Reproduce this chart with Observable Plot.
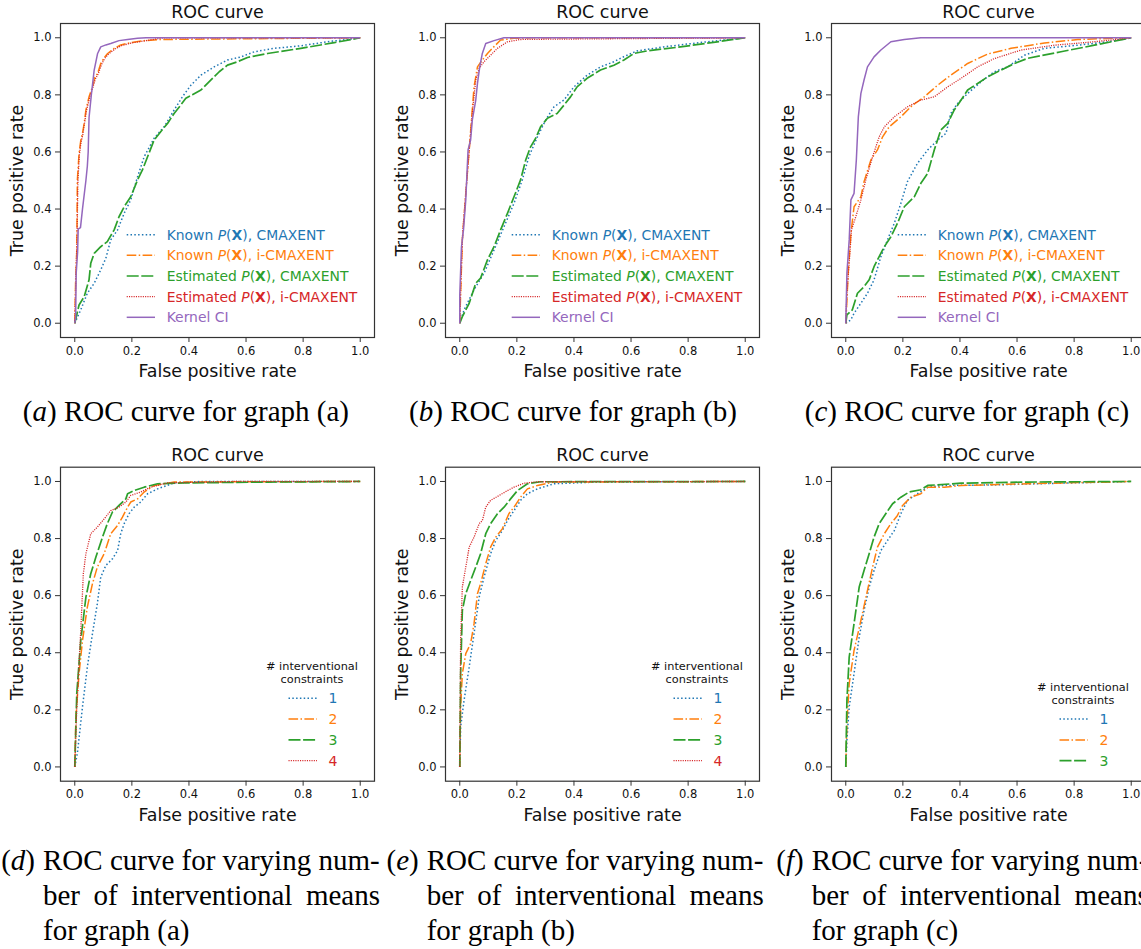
<!DOCTYPE html>
<html><head><meta charset="utf-8">
<script src="https://cdn.jsdelivr.net/npm/d3@7"></script>
<script src="https://cdn.jsdelivr.net/npm/@observablehq/plot@0.6"></script>
<style>
html,body{margin:0;padding:0;background:#fff;}
body{width:1141px;height:949px;overflow:hidden;position:relative;font-family:"DejaVu Sans";}
.panel{position:absolute;width:384px;height:385px;}
.panel svg{max-width:none !important;}
.cap{position:absolute;font-family:"Liberation Serif";font-size:29px;line-height:35px;white-space:nowrap;color:#000;}
.just{text-align:justify;text-align-last:justify;white-space:normal;}
</style></head><body>
<script>
// ---------- data ----------
const axisTicks = [0, 0.2, 0.4, 0.6, 0.8, 1.0];
const topLegendLabels = ["Known P(X), CMAXENT", "Known P(X), i-CMAXENT", "Estimated P(X), CMAXENT", "Estimated P(X), i-CMAXENT", "Kernel CI"];
const constraintLabels = ["1", "2", "3", "4"];
const topCaptions = ["a", "b", "c"];
const bottomCaptions = [["d", "a"], ["e", "b"], ["f", "c"]];

// panel (a) [fpr, tpr]
const a_knownCMAXENT = [[0,0],[0.021,0.047],[0.044,0.105],[0.068,0.14],[0.091,0.187],[0.109,0.228],[0.126,0.292],[0.15,0.327],[0.173,0.385],[0.196,0.432],[0.22,0.513],[0.243,0.583],[0.278,0.648],[0.313,0.688],[0.348,0.747],[0.377,0.793],[0.407,0.834],[0.442,0.869],[0.488,0.898],[0.535,0.922],[0.582,0.933],[0.629,0.951],[0.699,0.963],[0.792,0.972],[0.886,0.986],[1,1]];
const a_knownICMAXENT = [[0,0],[0.003,0.15],[0.007,0.25],[0.009,0.5],[0.015,0.595],[0.021,0.64],[0.027,0.665],[0.033,0.7],[0.039,0.747],[0.05,0.793],[0.062,0.828],[0.07,0.86],[0.08,0.875],[0.091,0.91],[0.103,0.93],[0.115,0.945],[0.138,0.963],[0.161,0.975],[0.196,0.983],[0.243,0.99],[0.302,0.994],[1,1]];
const a_estCMAXENT = [[0,0],[0.015,0.064],[0.033,0.093],[0.05,0.152],[0.056,0.21],[0.068,0.245],[0.091,0.268],[0.114,0.286],[0.138,0.327],[0.155,0.373],[0.173,0.408],[0.196,0.443],[0.22,0.502],[0.237,0.537],[0.255,0.583],[0.278,0.642],[0.301,0.671],[0.325,0.7],[0.348,0.735],[0.371,0.764],[0.389,0.788],[0.412,0.8],[0.442,0.817],[0.465,0.84],[0.488,0.863],[0.506,0.881],[0.535,0.904],[0.57,0.916],[0.605,0.931],[0.675,0.945],[0.792,0.963],[0.909,0.983],[1,1]];
const a_estICMAXENT = [[0,0],[0.004,0.17],[0.008,0.3],[0.011,0.5],[0.016,0.59],[0.022,0.635],[0.028,0.66],[0.034,0.7],[0.041,0.745],[0.052,0.79],[0.063,0.825],[0.072,0.855],[0.082,0.873],[0.093,0.905],[0.105,0.928],[0.118,0.943],[0.14,0.96],[0.165,0.973],[0.2,0.982],[0.25,0.99],[0.31,1],[1,1]];
const a_kernelCI = [[0,0],[0.003,0.02],[0.005,0.175],[0.01,0.25],[0.012,0.33],[0.02,0.335],[0.027,0.4],[0.039,0.5],[0.044,0.55],[0.047,0.6],[0.05,0.72],[0.058,0.8],[0.068,0.887],[0.08,0.945],[0.091,0.968],[0.109,0.975],[0.126,0.98],[0.155,0.99],[0.185,0.994],[0.22,0.998],[0.25,1],[1,1]];

// panel (b)
const b_knownCMAXENT = [[0,0],[0.015,0.047],[0.05,0.117],[0.085,0.175],[0.12,0.257],[0.155,0.338],[0.19,0.42],[0.219,0.502],[0.242,0.583],[0.272,0.653],[0.301,0.712],[0.33,0.758],[0.365,0.782],[0.4,0.828],[0.446,0.869],[0.493,0.898],[0.54,0.916],[0.575,0.934],[0.621,0.954],[0.714,0.968],[0.831,0.982],[1,1]];
const b_knownICMAXENT = [[0,0],[0.003,0.105],[0.009,0.292],[0.021,0.455],[0.033,0.607],[0.041,0.712],[0.05,0.828],[0.062,0.898],[0.079,0.922],[0.097,0.945],[0.12,0.969],[0.143,0.992],[0.19,0.998],[0.248,1],[1,1]];
const b_estCMAXENT = [[0,0],[0.009,0.023],[0.033,0.07],[0.056,0.14],[0.073,0.158],[0.097,0.222],[0.12,0.268],[0.143,0.327],[0.167,0.385],[0.19,0.443],[0.213,0.502],[0.231,0.572],[0.248,0.618],[0.266,0.648],[0.283,0.688],[0.307,0.718],[0.341,0.735],[0.365,0.764],[0.388,0.793],[0.411,0.828],[0.446,0.858],[0.493,0.887],[0.54,0.904],[0.575,0.922],[0.61,0.945],[0.656,0.954],[0.773,0.968],[0.889,0.984],[1,1]];
const b_estICMAXENT = [[0,0],[0.003,0.117],[0.01,0.315],[0.022,0.467],[0.034,0.618],[0.045,0.747],[0.056,0.852],[0.068,0.893],[0.085,0.916],[0.108,0.939],[0.132,0.963],[0.167,0.986],[0.213,0.994],[0.307,0.995],[1,1]];
const b_kernelCI = [[0,0],[0,0.1],[0.006,0.268],[0.013,0.327],[0.021,0.432],[0.029,0.607],[0.038,0.642],[0.044,0.712],[0.056,0.782],[0.062,0.84],[0.07,0.898],[0.079,0.945],[0.091,0.98],[0.12,0.99],[0.155,1],[1,1]];

// panel (c)
const c_knownCMAXENT = [[0,0],[0.018,0.012],[0.029,0.035],[0.053,0.07],[0.076,0.105],[0.099,0.152],[0.123,0.233],[0.146,0.292],[0.17,0.35],[0.193,0.42],[0.216,0.496],[0.251,0.56],[0.287,0.607],[0.322,0.642],[0.351,0.665],[0.368,0.735],[0.392,0.77],[0.427,0.805],[0.474,0.846],[0.52,0.881],[0.567,0.898],[0.626,0.939],[0.696,0.963],[0.813,0.974],[0.918,0.986],[1,1]];
const c_knownICMAXENT = [[0,0],[0.004,0.082],[0.009,0.187],[0.018,0.315],[0.029,0.408],[0.053,0.443],[0.064,0.496],[0.088,0.572],[0.111,0.607],[0.129,0.653],[0.152,0.688],[0.193,0.723],[0.234,0.764],[0.275,0.793],[0.322,0.834],[0.368,0.869],[0.427,0.91],[0.497,0.943],[0.579,0.963],[0.696,0.982],[0.813,0.994],[1,1]];
const c_estCMAXENT = [[0,0],[0.004,0.029],[0.023,0.047],[0.041,0.105],[0.064,0.128],[0.082,0.152],[0.099,0.198],[0.111,0.222],[0.135,0.268],[0.158,0.303],[0.181,0.35],[0.205,0.408],[0.24,0.443],[0.263,0.49],[0.287,0.525],[0.31,0.607],[0.333,0.677],[0.357,0.7],[0.38,0.747],[0.404,0.782],[0.427,0.817],[0.462,0.84],[0.497,0.863],[0.544,0.887],[0.591,0.91],[0.637,0.928],[0.754,0.951],[0.871,0.974],[1,1]];
const c_estICMAXENT = [[0,0],[0.004,0.105],[0.011,0.198],[0.02,0.327],[0.035,0.373],[0.053,0.432],[0.07,0.502],[0.094,0.583],[0.117,0.653],[0.135,0.688],[0.17,0.723],[0.216,0.758],[0.263,0.782],[0.31,0.793],[0.357,0.828],[0.404,0.858],[0.462,0.898],[0.52,0.927],[0.614,0.957],[0.731,0.974],[0.871,0.986],[1,1]];
const c_kernelCI = [[0,0],[0.004,0.175],[0.012,0.292],[0.018,0.432],[0.029,0.455],[0.037,0.572],[0.044,0.723],[0.053,0.805],[0.064,0.852],[0.076,0.898],[0.099,0.933],[0.123,0.957],[0.158,0.986],[0.205,0.994],[0.263,1],[1,1]];

// panel (d) constraints 1..4
const d_c1 = [[0,0],[0.009,0.047],[0.027,0.21],[0.044,0.35],[0.062,0.467],[0.079,0.572],[0.091,0.665],[0.109,0.706],[0.132,0.729],[0.15,0.758],[0.161,0.817],[0.173,0.852],[0.19,0.887],[0.208,0.91],[0.231,0.928],[0.255,0.957],[0.29,0.974],[0.348,0.995],[0.442,1],[1,1]];
const d_c2 = [[0,0],[0.004,0.175],[0.015,0.327],[0.027,0.443],[0.044,0.56],[0.062,0.642],[0.079,0.7],[0.103,0.747],[0.126,0.817],[0.15,0.846],[0.167,0.875],[0.185,0.91],[0.196,0.928],[0.22,0.939],[0.243,0.963],[0.278,0.986],[0.348,0.998],[1,1]];
const d_c3 = [[0,0],[0.007,0.257],[0.021,0.443],[0.039,0.595],[0.056,0.677],[0.074,0.735],[0.097,0.805],[0.114,0.852],[0.132,0.893],[0.155,0.916],[0.179,0.939],[0.185,0.957],[0.208,0.968],[0.243,0.98],[0.29,0.992],[0.383,0.995],[0.675,0.998],[1,1]];
const d_c4 = [[0,0],[0.007,0.21],[0.021,0.478],[0.03,0.677],[0.039,0.747],[0.056,0.817],[0.079,0.84],[0.103,0.869],[0.126,0.898],[0.155,0.91],[0.179,0.928],[0.196,0.951],[0.231,0.963],[0.266,0.98],[0.325,0.995],[0.558,1],[1,1]];

// panel (e)
const e_c1 = [[0,0],[0.003,0.14],[0.015,0.233],[0.033,0.35],[0.05,0.467],[0.068,0.595],[0.085,0.665],[0.108,0.747],[0.126,0.793],[0.149,0.828],[0.167,0.863],[0.19,0.898],[0.213,0.934],[0.237,0.957],[0.272,0.974],[0.33,0.992],[0.481,0.998],[1,1]];
const e_c2 = [[0,0],[0.003,0.21],[0.009,0.327],[0.021,0.397],[0.038,0.432],[0.05,0.502],[0.062,0.607],[0.073,0.642],[0.091,0.712],[0.108,0.77],[0.126,0.805],[0.149,0.834],[0.172,0.887],[0.19,0.91],[0.213,0.945],[0.237,0.974],[0.272,0.986],[0.33,0.998],[1,1]];
const e_c3 = [[0,0],[0.003,0.327],[0.009,0.548],[0.021,0.607],[0.038,0.653],[0.056,0.7],[0.073,0.747],[0.091,0.817],[0.108,0.852],[0.132,0.887],[0.155,0.91],[0.178,0.939],[0.202,0.968],[0.237,0.992],[0.283,0.999],[1,1]];
const e_c4 = [[0,0],[0.003,0.443],[0.009,0.63],[0.021,0.7],[0.033,0.77],[0.05,0.805],[0.068,0.852],[0.079,0.863],[0.091,0.91],[0.108,0.934],[0.138,0.951],[0.167,0.968],[0.19,0.98],[0.225,0.994],[0.272,0.999],[1,1]];

// panel (f)
const f_c1 = [[0,0],[0.004,0.093],[0.012,0.21],[0.029,0.327],[0.047,0.455],[0.064,0.548],[0.082,0.63],[0.099,0.688],[0.123,0.758],[0.146,0.793],[0.17,0.828],[0.193,0.887],[0.216,0.934],[0.251,0.957],[0.287,0.98],[0.345,0.986],[0.52,0.988],[0.754,0.994],[1,1]];
const f_c2 = [[0,0],[0.004,0.152],[0.012,0.292],[0.029,0.408],[0.053,0.513],[0.076,0.618],[0.094,0.7],[0.111,0.77],[0.135,0.817],[0.158,0.852],[0.181,0.881],[0.199,0.916],[0.228,0.945],[0.263,0.957],[0.287,0.98],[0.345,0.98],[0.404,0.986],[0.637,0.992],[1,1]];
const f_c3 = [[0,0],[0.004,0.233],[0.012,0.385],[0.029,0.502],[0.047,0.63],[0.064,0.688],[0.082,0.747],[0.099,0.805],[0.117,0.852],[0.14,0.887],[0.164,0.922],[0.193,0.945],[0.222,0.963],[0.263,0.971],[0.287,0.986],[0.404,0.994],[0.637,0.998],[1,1]];

// ---------- styles ----------
const colors = ["#1f77b4", "#ff7f0e", "#2ca02c", "#d62728", "#9467bd"];
const dashes = ["1.5,2.3", "9.6,2.4,1.5,2.4", "12,2.6", "1.1,1.2", null];
const widths = [1.5, 1.5, 1.7, 1.3, 1.5];

const panels = [
  {left: 0, top: 0, row: 0, curves: [a_knownCMAXENT, a_knownICMAXENT, a_estCMAXENT, a_estICMAXENT, a_kernelCI]},
  {left: 384.5, top: 0, row: 0, curves: [b_knownCMAXENT, b_knownICMAXENT, b_estCMAXENT, b_estICMAXENT, b_kernelCI]},
  {left: 770.7, top: 0, row: 0, curves: [c_knownCMAXENT, c_knownICMAXENT, c_estCMAXENT, c_estICMAXENT, c_kernelCI]},
  {left: 0, top: 440, row: 1, curves: [d_c1, d_c2, d_c3, d_c4]},
  {left: 384.5, top: 440, row: 1, curves: [e_c1, e_c2, e_c3, e_c4]},
  {left: 770.7, top: 440, row: 1, curves: [f_c1, f_c2, f_c3]}
];

const fmt = d3.format(".1f");

function makePanel(p) {
  const mt = p.row === 0 ? 23 : 26.7;
  const H = 385;
  const marks = [
    Plot.frame({stroke: "#333", strokeWidth: 1.2}),
    Plot.axisX({ticks: axisTicks, tickFormat: fmt, tickSize: 5, tickPadding: 4, stroke: "#333", fill: "#111", label: null}),
    Plot.axisY({ticks: axisTicks, tickFormat: fmt, tickSize: 5, tickPadding: 4, stroke: "#333", fill: "#111", label: null})
  ];
  p.curves.forEach((c, i) => {
    const rows = c.map(([fpr, tpr]) => ({fpr, tpr}));
    marks.push(Plot.line(rows, {x: "fpr", y: "tpr", stroke: colors[i], strokeWidth: widths[i],
      strokeDasharray: dashes[i] || undefined, strokeLinecap: "butt", strokeLinejoin: "round"}));
  });
  marks.push(Plot.text(["ROC curve"], {text: d => d, frameAnchor: "top", lineAnchor: "middle", textAnchor: "middle", dy: -11.5, fontSize: 17.5, fill: "#111"}));
  marks.push(Plot.text(["False positive rate"], {text: d => d, frameAnchor: "bottom", lineAnchor: "middle", textAnchor: "middle", dy: 34, fontSize: 17.4, fill: "#111"}));
  marks.push(Plot.text(["True positive rate"], {text: d => d, frameAnchor: "left", lineAnchor: "middle", textAnchor: "middle", dx: -43, rotate: -90, fontSize: 17.4, fill: "#111"}));

  const svg = Plot.plot({
    width: 384, height: H,
    marginLeft: 60, marginRight: 10, marginTop: mt, marginBottom: H - mt - 314,
    x: {domain: [-0.05, 1.05]},
    y: {domain: [-0.05, 1.05]},
    style: {fontFamily: "DejaVu Sans", fontSize: "11.5px", background: "transparent", overflow: "visible", maxWidth: "none"},
    marks
  });

  const g = d3.select(svg).append("g").attr("font-family", "DejaVu Sans").attr("text-anchor", "start").style("white-space", "pre");
  if (p.row === 0) {
    topLegendLabels.forEach((lab, i) => {
      const y = 234.7 + i * 20.65;
      g.append("line").attr("x1", 126.7).attr("x2", 155).attr("y1", y).attr("y2", y)
        .attr("stroke", colors[i]).attr("stroke-width", widths[i])
        .attr("stroke-dasharray", dashes[i]);
      const t = g.append("text").attr("x", 166.7).attr("y", y).attr("dy", "0.36em")
        .attr("text-anchor", "start").attr("fill", colors[i]).attr("font-size", 13.9);
      const parts = lab.split("P(X)");
      if (parts.length === 2) {
        t.append("tspan").text(parts[0]);
        t.append("tspan").attr("font-style", "italic").text("P");
        t.append("tspan").text("(");
        t.append("tspan").attr("font-weight", "bold").text("X");
        t.append("tspan").text(")" + parts[1]);
      } else {
        t.text(lab);
      }
    });
  } else {
    const n = p.curves.length;
    const y0 = 320.7 - (n - 1) * 20.8;
    ["# interventional", "constraints"].forEach((s, k) => {
      g.append("text").attr("x", 312).attr("y", y0 - 32.3 + k * 13).attr("dy", "0.36em")
        .attr("text-anchor", "middle").attr("font-size", 11.3).attr("fill", "#111").text(s);
    });
    for (let i = 0; i < n; i++) {
      const y = y0 + i * 20.8;
      g.append("line").attr("x1", 288.5).attr("x2", 317).attr("y1", y).attr("y2", y)
        .attr("stroke", colors[i]).attr("stroke-width", widths[i])
        .attr("stroke-dasharray", dashes[i]);
      g.append("text").attr("x", 333).attr("y", y).attr("dy", "0.36em").attr("text-anchor", "middle")
        .attr("font-size", 14).attr("fill", colors[i]).text(constraintLabels[i]);
    }
  }

  const div = document.createElement("div");
  div.className = "panel";
  div.style.left = p.left + "px";
  div.style.top = p.top + "px";
  div.appendChild(svg);
  document.body.appendChild(div);
}
panels.forEach(makePanel);

// ---------- captions ----------
const topCenters = [185.9, 573, 967];
topCaptions.forEach((k, i) => {
  const d = document.createElement("div");
  d.className = "cap";
  d.style.left = (topCenters[i] - 200) + "px";
  d.style.width = "400px";
  d.style.textAlign = "center";
  d.style.top = "394.4px";
  d.innerHTML = `(<i>${k}</i>) ROC curve for graph (${k})`;
  document.body.appendChild(d);
});
const bodyStarts = [43, 426.7, 811.7];
bottomCaptions.forEach(([k, gname], i) => {
  const lab = document.createElement("div");
  lab.className = "cap";
  lab.style.left = (bodyStarts[i] - 48) + "px";
  lab.style.width = "40px";
  lab.style.textAlign = "right";
  lab.style.top = "842.7px";
  lab.innerHTML = `(<i>${k}</i>)`;
  document.body.appendChild(lab);
  const body = document.createElement("div");
  body.className = "cap";
  body.style.left = bodyStarts[i] + "px";
  body.style.width = "337px";
  body.style.top = "842.7px";
  body.innerHTML = `<div>ROC curve for varying num-</div><div class="just">ber of interventional means</div><div>for graph (${gname})</div>`;
  document.body.appendChild(body);
});
</script>
</body></html>
